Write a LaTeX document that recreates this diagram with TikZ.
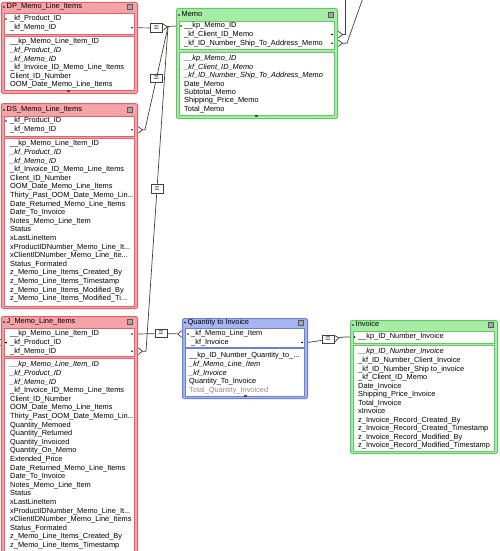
\documentclass[tikz,border=0pt]{standalone}
\usepackage{fontspec}
\setmainfont{Liberation Sans}
\usetikzlibrary{arrows.meta}

\definecolor{redfill}{HTML}{F4A3A6}
\definecolor{redline}{HTML}{E4606B}
\definecolor{greenfill}{HTML}{A6EBA6}
\definecolor{greenline}{HTML}{62C862}
\definecolor{bluefill}{HTML}{A8B5F1}
\definecolor{blueline}{HTML}{6A80D8}
\newcommand{\trunc}{...}

\begin{document}
\begin{tikzpicture}[
    x=1pt, y=-1pt,
    frame/.style={draw=#1line, fill=#1fill, line width=1pt, rounded corners=1.5pt, anchor=north west, inner sep=0pt},
    section/.style={draw=#1line, fill=white, line width=0.9pt, anchor=north west, inner sep=0pt},
    row/.style={anchor=west, inner sep=0pt, text height=5.4pt, text depth=1.6pt, font=\fontsize{7.4}{8}\selectfont},
    keydot/.style={circle, fill=black, inner sep=0pt, minimum size=1.8pt},
    icon/.style={draw=black!65, fill=black!35, minimum size=5pt, inner sep=0pt},
    handle/.style={fill=black!70, minimum width=3pt, minimum height=2pt, inner sep=0pt},
    eq/.style={draw=black!75, fill=white, line width=0.8pt, minimum width=12pt, minimum height=8.5pt, inner sep=0pt, font=\fontsize{9}{9}\selectfont},
    link/.style={draw=black!75, line width=0.7pt},
    crow/.tip={Straight Barb[reversed, length=4pt, width=6.5pt]}
]
\useasboundingbox (0,0) rectangle (500,551);
\clip (0,0) rectangle (500,551);

% --- DP_Memo_Line_Items ---
\node[frame=red, minimum width=136pt, minimum height=91pt] (dp) at (1,2) {};
\node[keydot] (dpdot) at (4,7) {};
\node[row] (dpt) at (6.5,7) {DP\_Memo\_Line\_Items};
\node[icon] (dpicon) at (130,7) {};
\node[section=red, minimum width=130pt, minimum height=21pt] (dpkey) at (4,13) {};
\node[section=red, minimum width=130pt, minimum height=54pt] (dpbody) at (4,36) {};
\foreach \t [count=\i] in {\_kf\_Product\_ID, \_kf\_Memo\_ID}
    \node[row] (dpk\i) at (10,{19+(\i-1)*8.8}) {\t};
\foreach \t [count=\i] in {\_\_kp\_Memo\_Line\_Item\_ID, {\itshape\_kf\_Product\_ID}, {\itshape\_kf\_Memo\_ID}, \_kf\_Invoice\_ID\_Memo\_Line\_Items, Client\_ID\_Number, OOM\_Date\_Memo\_Line\_Items}
    \node[row] (dpb\i) at (10,{42+(\i-1)*8.6}) {\t};
\node[keydot] (dpd1) at (6,19) {};
\node[keydot] (dpd2) at (132,27.8) {};
\node[handle] (dph) at (68,91) {};

% --- DS_Memo_Line_Items ---
\node[frame=red, minimum width=136pt, minimum height=205pt] (ds) at (1,103) {};
\node[keydot] (dsdot) at (4,110) {};
\node[row] (dst) at (6.5,110) {DS\_Memo\_Line\_Items};
\node[icon] (dsicon) at (130,110) {};
\node[section=red, minimum width=130pt, minimum height=20pt] (dskey) at (4,116) {};
\node[section=red, minimum width=130pt, minimum height=168pt] (dsbody) at (4,138) {};
\foreach \t [count=\i] in {\_kf\_Product\_ID, \_kf\_Memo\_ID}
    \node[row] (dsk\i) at (10,{121+(\i-1)*8.8}) {\t};
\foreach \t [count=\i] in {\_\_kp\_Memo\_Line\_Item\_ID, {\itshape\_kf\_Product\_ID}, {\itshape\_kf\_Memo\_ID}, \_kf\_Invoice\_ID\_Memo\_Line\_Items, Client\_ID\_Number, OOM\_Date\_Memo\_Line\_Items, Thirty\_Past\_OOM\_Date\_Memo\_Lin\trunc, Date\_Returned\_Memo\_Line\_Items, Date\_To\_Invoice, Notes\_Memo\_Line\_Item, Status, xLastLineItem, xProductIDNumber\_Memo\_Line\_It\trunc, xClientIDNumber\_Memo\_Line\_Ite\trunc, Status\_Formated, z\_Memo\_Line\_Items\_Created\_By, z\_Memo\_Line\_Items\_Timestamp, z\_Memo\_Line\_Items\_Modified\_By, z\_Memo\_Line\_Items\_Modified\_Ti\trunc}
    \node[row] (dsb\i) at (10,{144+(\i-1)*8.6}) {\t};
\node[keydot] (dsd1) at (6,121) {};
\node[keydot] (dsd2) at (132,129.8) {};

% --- J_Memo_Line_Items ---
\node[frame=red, minimum width=136pt, minimum height=260pt] (j) at (1,316) {};
\node[keydot] (jdot) at (4,322) {};
\node[row] (jt) at (6.5,322) {J\_Memo\_Line\_Items};
\node[icon] (jicon) at (130,322) {};
\node[section=red, minimum width=130pt, minimum height=28pt] (jkey) at (4,328) {};
\node[section=red, minimum width=130pt, minimum height=220pt] (jbody) at (4,358) {};
\foreach \t [count=\i] in {\_\_kp\_Memo\_Line\_Item\_ID, \_kf\_Product\_ID, \_kf\_Memo\_ID}
    \node[row] (jk\i) at (10,{334+(\i-1)*8.6}) {\t};
\foreach \t [count=\i] in {{\itshape\_\_kp\_Memo\_Line\_Item\_ID}, {\itshape\_kf\_Product\_ID}, {\itshape\_kf\_Memo\_ID}, \_kf\_Invoice\_ID\_Memo\_Line\_Items, Client\_ID\_Number, OOM\_Date\_Memo\_Line\_Items, Thirty\_Past\_OOM\_Date\_Memo\_Lin\trunc, Quantity\_Memoed, Quantity\_Returned, Quantity\_Invoiced, Quantity\_On\_Memo, Extended\_Price, Date\_Returned\_Memo\_Line\_Items, Date\_To\_Invoice, Notes\_Memo\_Line\_Item, Status, xLastLineItem, xProductIDNumber\_Memo\_Line\_It\trunc, xClientIDNumber\_Memo\_Line\_Items, Status\_Formated, z\_Memo\_Line\_Items\_Created\_By, z\_Memo\_Line\_Items\_Timestamp}
    \node[row] (jb\i) at (10,{365+(\i-1)*8.6}) {\t};
\node[keydot] (jd1) at (132,334) {};
\node[keydot] (jd2) at (6,342.6) {};
\node[keydot] (jd3) at (132,351.2) {};

% --- Memo ---
\node[frame=green, minimum width=161pt, minimum height=110pt] (memo) at (176,8) {};
\node[keydot] (memodot) at (179,15) {};
\node[row] (memot) at (181.5,15) {Memo};
\node[icon] (memoicon) at (331,15) {};
\node[section=green, minimum width=155pt, minimum height=28pt] (memokey) at (179,21) {};
\node[section=green, minimum width=155pt, minimum height=63pt] (memobody) at (179,52) {};
\foreach \t [count=\i] in {\_\_kp\_Memo\_ID, \_kf\_Client\_ID\_Memo, \_kf\_ID\_Number\_Ship\_To\_Address\_Memo}
    \node[row] (memok\i) at (184,{26+(\i-1)*8.6}) {\t};
\foreach \t [count=\i] in {{\itshape\_\_kp\_Memo\_ID}, {\itshape\_kf\_Client\_ID\_Memo}, {\itshape\_kf\_ID\_Number\_Ship\_To\_Address\_Memo}, Date\_Memo, Subtotal\_Memo, Shipping\_Price\_Memo, Total\_Memo}
    \node[row] (memob\i) at (184,{59+(\i-1)*8.4}) {\t};
\node[keydot] (memod1) at (181,26) {};
\node[keydot] (memod2) at (332,34.6) {};
\node[keydot] (memod3) at (332,43.2) {};
\node[handle] (memoh) at (256.5,116) {};

% --- Quantity to Invoice ---
\node[frame=blue, minimum width=125pt, minimum height=80pt] (qti) at (182,318) {};
\node[keydot] (qtidot) at (185,322.5) {};
\node[row] (qtit) at (187.5,322.5) {Quantity to Invoice};
\node[icon] (qtiicon) at (301,322.5) {};
\node[section=blue, minimum width=119pt, minimum height=19pt] (qtikey) at (185,327.5) {};
\node[section=blue, minimum width=119pt, minimum height=48pt] (qtibody) at (185,348) {};
\foreach \t [count=\i] in {\_kf\_Memo\_Line\_Item, \_kf\_Invoice}
    \node[row] (qtik\i) at (191,{334+(\i-1)*8.4}) {\t};
\foreach \t [count=\i] in {\_\_kp\_ID\_Number\_Quantity\_to\_\trunc, {\itshape\_kf\_Memo\_Line\_Item}, {\itshape\_kf\_Invoice}, Quantity\_To\_Invoice, {\color{black!45}Total\_Quantity\_Invoiced}}
    \node[row] (qtib\i) at (189,{356+(\i-1)*8.6}) {\t};
\node[keydot] (qtid1) at (188,334) {};
\node[keydot] (qtid2) at (302,342.4) {};
\node[handle] (qtih) at (245,396) {};

% --- Invoice ---
\node[frame=green, minimum width=147pt, minimum height=133pt] (inv) at (350,320) {};
\node[keydot] (invdot) at (353,325) {};
\node[row] (invt) at (355.5,325) {Invoice};
\node[icon] (invicon) at (491,325) {};
\node[section=green, minimum width=141pt, minimum height=12pt] (invkey) at (353,331) {};
\node[section=green, minimum width=141pt, minimum height=106pt] (invbody) at (353,345) {};
\node[row] (invk1) at (358,337) {\_\_kp\_ID\_Number\_Invoice};
\foreach \t [count=\i] in {{\itshape\_\_kp\_ID\_Number\_Invoice}, \_kf\_ID\_Number\_Client\_Invoice, \_kf\_ID\_Number\_Ship to\_invoice, \_kf\_Client\_ID\_Memo, Date\_Invoice, Shipping\_Price\_Invoice, Total\_Invoice, xInvoice, z\_Invoice\_Record\_Created\_By, z\_Invoice\_Record\_Created\_Timestamp, z\_Invoice\_Record\_Modified\_By, z\_Invoice\_Record\_Modified\_Timestamp}
    \node[row] (invb\i) at (358,{352+(\i-1)*8.55}) {\t};
\node[keydot] (invd1) at (354.5,337) {};

% --- Bends and loose ends ---
\coordinate (memojoin) at (168,26.5);
\coordinate (dsbend) at (145,129.8);
\coordinate (jbend) at (146,351.2);
\coordinate (invbend) at (344,337);
\coordinate (mbend1) at (345,34.6);
\coordinate (mtop1) at (345,-5);
\coordinate (mbend2) at (347,43.2);
\coordinate (mtop2) at (364,-5);
\coordinate (jin) at (-8,342.6);

% --- Memo line items to Memo ---
\node[eq] (eq1) at (156.5,28) {=};
\draw[link, crow-] (dp.east |- dpk2) -- (eq1) -- (memojoin) -- (memo.west |- memok1);
\draw[link, crow-] (ds.east |- dsk2) -- (dsbend) -- node[eq] (eq2) {=} (memojoin);
\draw[link, crow-] (j.east |- jk3) -- (jbend) -- node[eq] (eq3) {=} (memojoin);

% --- J to Quantity to Invoice ---
\node[eq] (eq4) at (161,333.5) {=};
\draw[link, -crow] (j.east |- jk1) -- (eq4) -- (qti.west |- qtik1);

% --- Quantity to Invoice to Invoice ---
\node[eq] (eq5) at (328,339.5) {=};
\draw[link, crow-] (qti.east |- qtik2) -- (eq5) -- (invbend) -- (inv.west |- invk1);

% --- Memo to tables off the page ---
\draw[link, crow-] (memo.east |- memok2) -- (mbend1) -- (mtop1);
\draw[link, crow-] (memo.east |- memok3) -- (mbend2) -- (mtop2);
\draw[link, -crow] (jin) -- (j.west |- jk2);

\end{tikzpicture}
\end{document}
